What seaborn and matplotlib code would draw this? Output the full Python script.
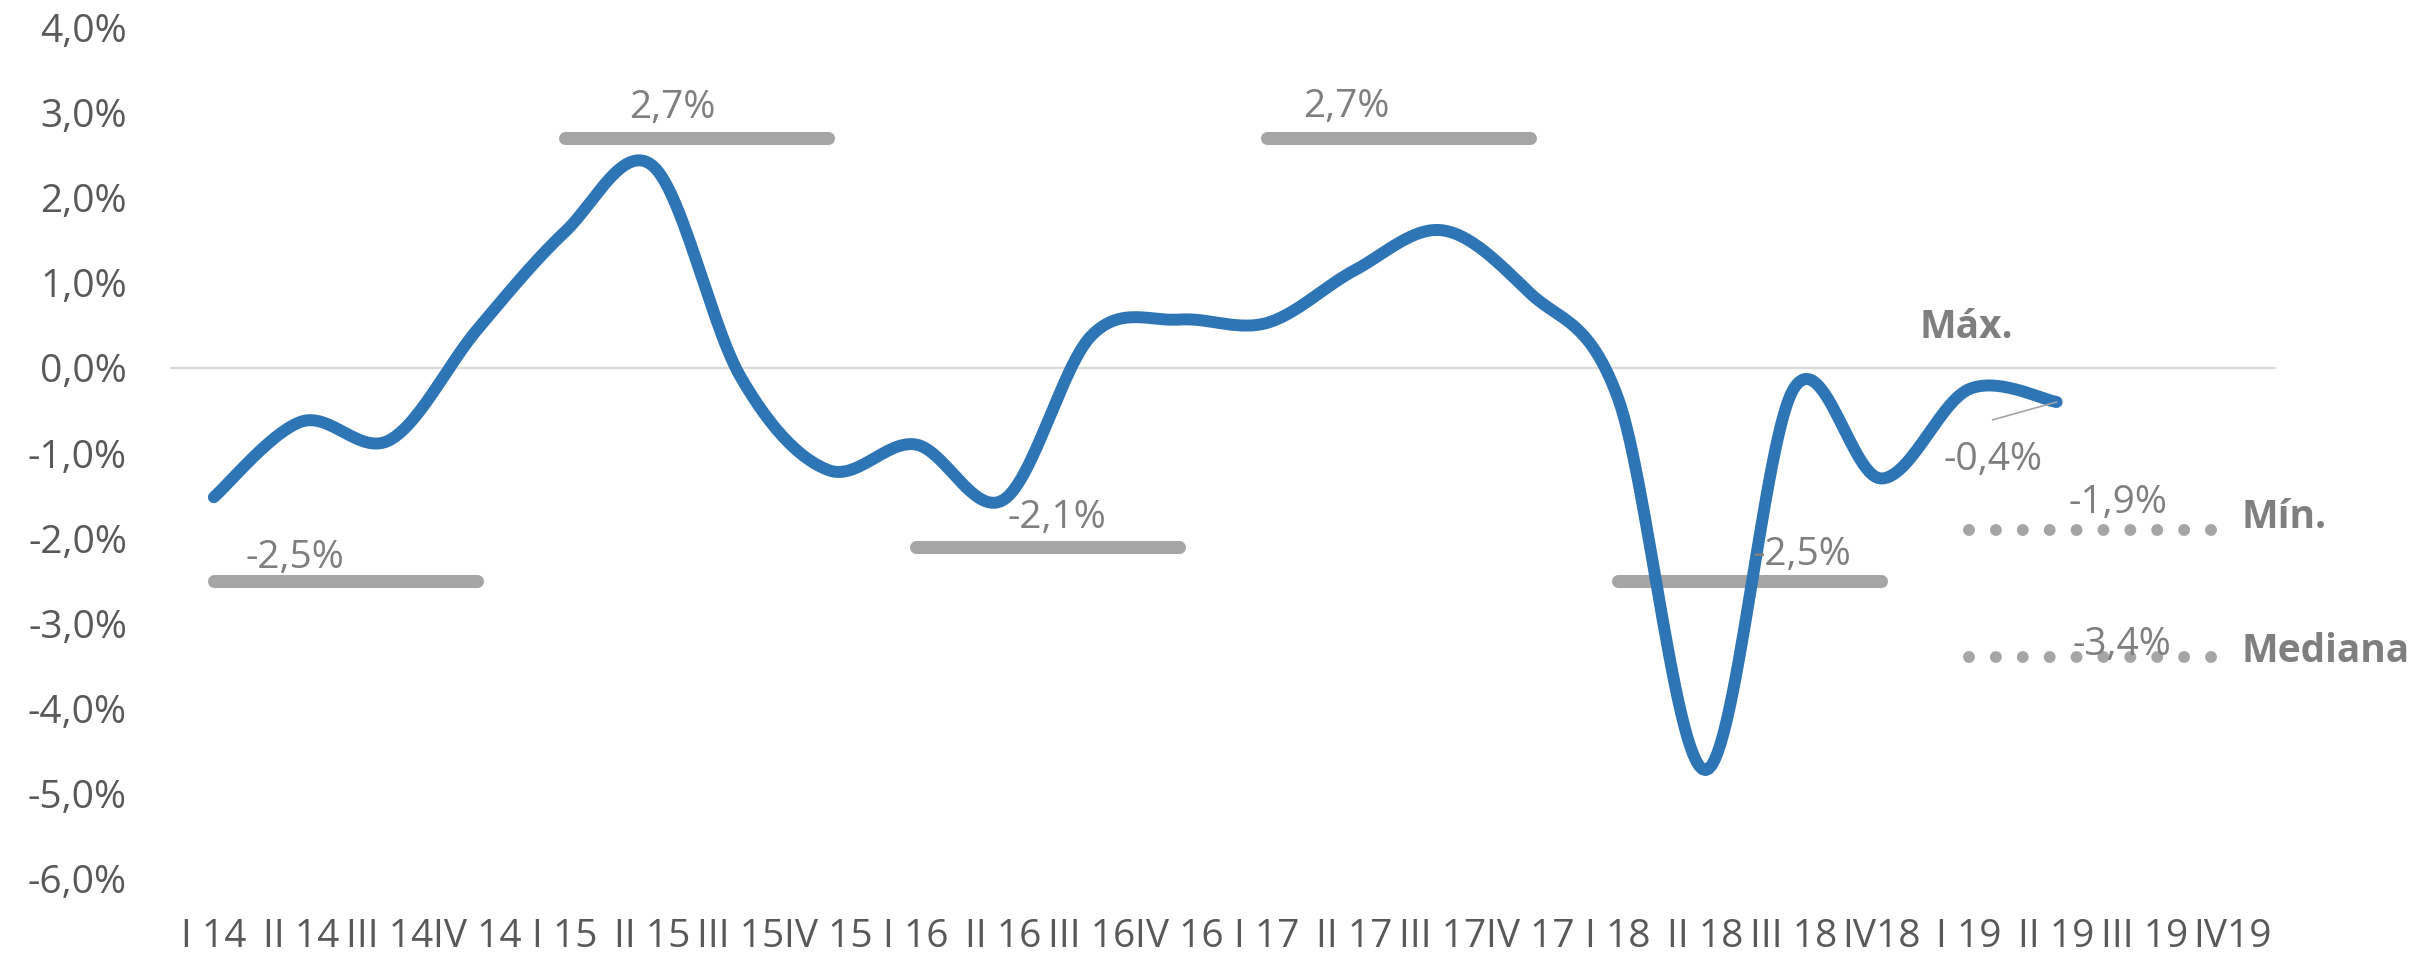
import numpy as np
import pandas as pd
import matplotlib
matplotlib.use("Agg")
import matplotlib.pyplot as plt
import seaborn as sns

# quarters shown on the x axis
quarters = ["I 14", "II 14", "III 14", "IV 14", "I 15", "II 15", "III 15", "IV 15",
            "I 16", "II 16", "III 16", "IV 16", "I 17", "II 17", "III 17", "IV 17",
            "I 18", "II 18", "III 18", "IV18", "I 19", "II 19", "III 19", "IV19"]

# quarterly series (%), known through II 19
quarterly = [-1.52, -0.63, -0.85, 0.45, 1.6, 2.38, -0.1, -1.2,
             -0.9, -1.55, 0.38, 0.57, 0.53, 1.15, 1.62, 0.88,
             -0.35, -4.73, -0.25, -1.3, -0.25, -0.4]

# yearly values (%), drawn over the four quarters of each year
years = [2014, 2015, 2016, 2017, 2018]
yearly = [-2.5, 2.7, -2.1, 2.7, -2.5]
yearly_labels = ["-2,5%", "2,7%", "-2,1%", "2,7%", "-2,5%"]

# 2019 forecast range (%)
forecast_names = ["Mín.", "Mediana"]
forecast = [-1.9, -3.4]
forecast_labels = ["-1,9%", "-3,4%"]
max_label = "Máx."
last_label = "-0,4%"

BLUE = "#2E75B6"
GREY = "#A5A5A5"
TXT = "#7F7F7F"
TICK = "#595959"


def smooth(y, n=30):
    # bezier smoothing similar to the spreadsheet "smoothed line" option
    p = np.asarray(y, dtype=float)
    x = np.arange(len(p), dtype=float)
    px = np.concatenate([[x[0]], x, [x[-1]]])
    py = np.concatenate([[p[0]], p, [p[-1]]])
    xs, ys = [], []
    t = np.linspace(0, 1, n)
    for i in range(len(p) - 1):
        j = i + 1
        x0, y0 = px[j], py[j]
        x3, y3 = px[j + 1], py[j + 1]
        x1, y1 = x0 + (px[j + 1] - px[j - 1]) / 6, y0 + (py[j + 1] - py[j - 1]) / 6
        x2, y2 = x3 - (px[j + 2] - px[j]) / 6, y3 - (py[j + 2] - py[j]) / 6
        b = [(1 - t) ** 3, 3 * (1 - t) ** 2 * t, 3 * (1 - t) * t ** 2, t ** 3]
        xs.append(b[0] * x0 + b[1] * x1 + b[2] * x2 + b[3] * x3)
        ys.append(b[0] * y0 + b[1] * y1 + b[2] * y2 + b[3] * y3)
    return np.concatenate(xs), np.concatenate(ys)


sns.set_theme(style="white")
plt.rcParams["font.family"] = ["Open Sans", "DejaVu Sans"]

fig = plt.figure(figsize=(24.28, 9.55), dpi=100)
ax = fig.add_axes([0.0700, 0.0806, 0.8674, 0.8901])

ax.axhline(0, color="#D9D9D9", lw=1.6, zorder=1)

# yearly bars
for k, (yr, v) in enumerate(zip(years, yearly)):
    df = pd.DataFrame({"q": np.arange(4 * k, 4 * k + 4), "v": [v] * 4})
    sns.lineplot(data=df, x="q", y="v", ax=ax, color=GREY, lw=9.4,
                 solid_capstyle="round", zorder=2)

# smoothed quarterly line
sx, sy = smooth(quarterly)
sns.lineplot(x=sx, y=sy, ax=ax, sort=False, color=BLUE, lw=8.6,
             solid_capstyle="round", zorder=3)

# 2019 forecast dotted lines
for v in forecast:
    df = pd.DataFrame({"q": [20, 21, 22, 23], "v": [v] * 4})
    sns.lineplot(data=df, x="q", y="v", ax=ax, color=GREY, lw=8.6,
                 linestyle=(0, (0.001, 2.25)), dash_capstyle="round", zorder=2)

fs = 28
# labels of yearly bars
lab_pos = [(0.92, -2.35), (5.23, 2.94), (9.61, -1.88), (12.91, 2.95), (18.1, -2.32)]
for (lx, ly), t in zip(lab_pos, yearly_labels):
    ax.text(lx, ly, t, ha="center", va="baseline", fontsize=fs, color=TXT, zorder=4)

# forecast labels
ax.text(21.7, -1.71, forecast_labels[0], ha="center", va="baseline", fontsize=fs, color=TXT, zorder=4)
ax.text(21.74, -3.38, forecast_labels[1], ha="center", va="baseline", fontsize=fs, color=TXT, zorder=4)
ax.text(23.11, -1.88, forecast_names[0], ha="left", va="baseline", fontsize=fs,
        color=TXT, fontweight="bold", zorder=4)
ax.text(23.11, -3.46, forecast_names[1], ha="left", va="baseline", fontsize=fs,
        color=TXT, fontweight="bold", zorder=4)
ax.text(19.97, 0.35, max_label, ha="center", va="baseline", fontsize=fs,
        color=TXT, fontweight="bold", zorder=4)

# last point label with leader line
ax.plot([20.27, 21.0], [-0.61, quarterly[-1]], color=GREY, lw=1.2, zorder=4)
ax.text(20.28, -1.2, last_label, ha="center", va="baseline", fontsize=fs, color=TXT, zorder=4)

ax.set_xlim(-0.5, 23.5)
ax.set_ylim(-6, 4)
ax.set_xticks(range(len(quarters)))
ax.set_xticklabels(quarters)
yt = np.arange(-6, 5, 1)
ax.set_yticks(yt)
ax.set_yticklabels([f"{v:.1f}%".replace(".", ",") for v in yt])
ax.tick_params(axis="both", length=0, labelsize=fs, labelcolor=TICK)
ax.tick_params(axis="y", pad=31)
ax.tick_params(axis="x", pad=29)
ax.set_xlabel("")
ax.set_ylabel("")
sns.despine(ax=ax, left=True, bottom=True)
ax.grid(False)

fig.savefig("out.png", dpi=100)
